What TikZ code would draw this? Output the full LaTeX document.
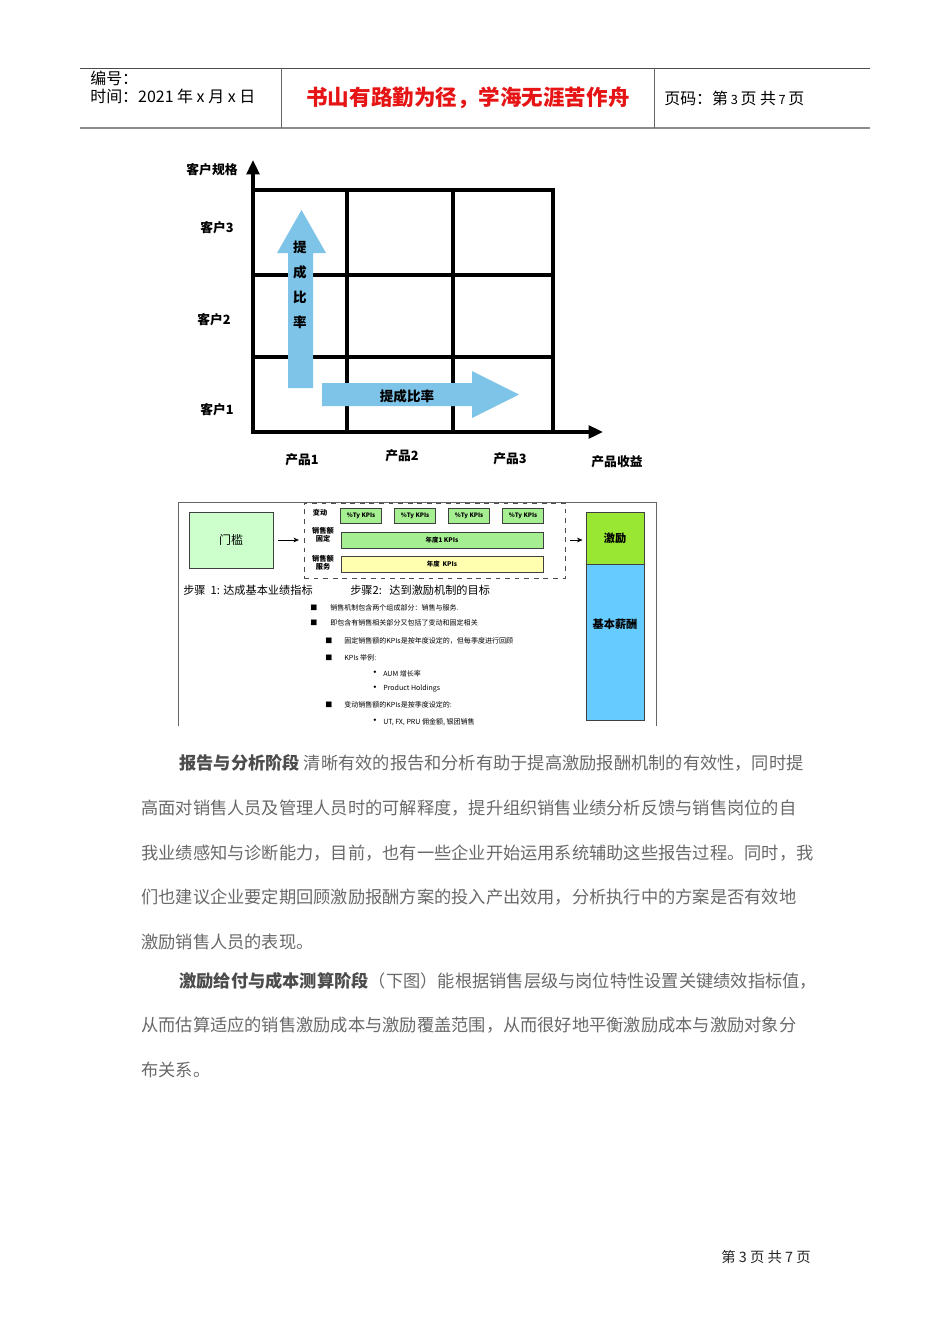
\documentclass[tikz,border=0pt]{standalone}
\usepackage{fontspec}
\setmainfont{Noto Sans CJK SC}
\usetikzlibrary{arrows.meta,positioning}
\definecolor{arrowblue}{RGB}{126,196,232}
\definecolor{headred}{RGB}{230,20,20}
\definecolor{paleg}{RGB}{204,255,204}
\definecolor{kpigreen}{RGB}{165,238,145}
\definecolor{paley}{RGB}{255,255,175}
\definecolor{incgreen}{RGB}{153,230,51}
\definecolor{basicblue}{RGB}{102,204,255}
\definecolor{bodygray}{RGB}{105,105,105}
\newcommand\bodyheadfont{\bfseries\color{black!70}}
\tikzset{
  gridline/.style={line width=2pt},
  axisline/.style={line width=2pt,-{Triangle[length=9pt,width=8pt]}},
  axislabel/.style={font=\bfseries\fontsize{8}{8}\selectfont},
  arrowtext/.style={font=\bfseries\fontsize{8.5}{8.5}\selectfont},
  kpibox/.style={draw=black!75,fill=kpigreen,minimum width=25.7pt,minimum height=9.4pt,inner sep=0pt,font=\bfseries\fontsize{3.8}{4}\selectfont},
  kpibar/.style={draw=black!75,minimum width=126.6pt,minimum height=10pt,inner sep=0pt,font=\bfseries\fontsize{4}{4}\selectfont},
  rowtag/.style={font=\bfseries\fontsize{4.5}{5.2}\selectfont,align=center,inner sep=0pt},
  tinytext/.style={anchor=west,inner sep=0pt,font=\fontsize{4.4}{5}\selectfont},
  dotmark/.style={anchor=west,inner sep=0pt,font=\fontsize{7}{7}\selectfont},
  flowarrow/.style={-{Stealth[length=3.5pt,width=3pt]},thin},
  bodytext/.style={anchor=west,inner sep=0pt,text=bodygray,font=\fontsize{10.8}{10.8}\selectfont}
}
\begin{document}
\begin{tikzpicture}[x=0.6266pt,y=-0.6266pt]
    \useasboundingbox [fill=white] (0,0) rectangle (950,1344);
    % header
    \draw [black!70,thin] (80,68) -- (870,68);
    \draw [black!45,line width=1.2pt] (80,128) -- (870,128);
    \draw [black!60,thin] (281,68) -- (281,128);
    \draw [black!60,thin] (654,68) -- (654,128);
    \node [anchor=west,inner sep=0pt,font=\fontsize{10}{10}\selectfont] (hnum) at (90,78) {编号：};
    \node [anchor=west,inner sep=0pt,font=\fontsize{10}{10}\selectfont] (htime) at (90,96) {时间：2021 年 x 月 x 日};
    \node [inner sep=0pt,text=headred,font=\bfseries\fontsize{13.5}{13.5}\selectfont] (hmotto) at (468,98) {书山有路勤为径，学海无涯苦作舟};
    \node [anchor=west,inner sep=0pt,font=\fontsize{10}{10}\selectfont] (hpage) at (664,98) {页码：第\,{\fontsize{8}{8}\selectfont 3}\,页 共\,{\fontsize{8}{8}\selectfont 7}\,页};
    % grid
    \coordinate (O) at (253,432);
    \coordinate (ytop) at (253,160);
    \coordinate (xend) at (603,432);
    \draw [gridline] (253,190) rectangle (553,432);
    \foreach \gx in {347,453} \draw [gridline] (\gx,190) -- (\gx,432);
    \foreach \gy in {275,357} \draw [gridline] (253,\gy) -- (553,\gy);
    \draw [axisline] (O) -- (ytop);
    \draw [axisline] (O) -- (xend);
    % block arrows
    \fill [arrowblue] (288,388) -- (288,253) -- (277,253) -- (301.5,210) -- (326,253) -- (313,253) -- (313,388) -- cycle;
    \fill [arrowblue] (322,383) -- (472,383) -- (472,371) -- (519,394.5) -- (472,418) -- (472,406) -- (322,406) -- cycle;
    \node [arrowtext] (up1) at (300,247) {提};
    \node [arrowtext] (up2) at (300,272) {成};
    \node [arrowtext] (up3) at (300,297) {比};
    \node [arrowtext] (up4) at (300,322) {率};
    \node [arrowtext] (rt) at (407,396) {提成比率};
    % axis labels
    \node [axislabel] (yname) at (212,170) {客户规格};
    \node [axislabel] (c3) at (217,228) {客户3};
    \node [axislabel] (c2) at (214,320) {客户2};
    \node [axislabel] (c1) at (217,410) {客户1};
    \node [axislabel] (p1) at (302,460) {产品1};
    \node [axislabel] (p2) at (402,456) {产品2};
    \node [axislabel] (p3) at (510,459) {产品3};
    \node [axislabel] (xname) at (617,462) {产品收益};
    % incentive scheme
    \draw [black!60,thin] (178,726) -- (178,502) -- (656,502) -- (656,726);
    \node [draw=black!75,fill=paleg,minimum width=52.6pt,minimum height=35.1pt,font=\fontsize{7.5}{7.5}\selectfont] (gate) at (231,540) {门槛};
    \node [draw=black!70,dashed,minimum width=163.5pt,minimum height=47pt,inner sep=0pt] (step2) at (434.5,540.5) {};
    \node [rowtag] (tvar) at (320,513) {变动};
    \node [rowtag] (tfix) at (323,535) {销售额\\固定};
    \node [rowtag] (tsrv) at (323,563) {销售额\\服务};
    \foreach \kx/\kn in {361/k1,415/k2,469/k3,523/k4}
        \node [kpibox] (\kn) at (\kx,516) {\%Ty KPIs};
    \node [kpibar,fill=kpigreen] (yr1) at (442,540) {年度1 KPIs};
    \node [kpibar,fill=paley] (yr2) at (442,564) {年度\ \ KPIs};
    \node [draw=black!75,fill=incgreen,minimum width=36.3pt,minimum height=32.6pt,inner sep=0pt,font=\bfseries\fontsize{7}{7}\selectfont] (incent) at (615,538) {激励};
    \node [draw=black!75,fill=basicblue,minimum width=36.3pt,minimum height=97.8pt,inner sep=0pt,below=0pt of incent,font=\bfseries\fontsize{7}{7}\selectfont] (basic) {};
    \node [font=\bfseries\fontsize{7}{7}\selectfont] (basictxt) at (615,624) {基本薪酬};
    \draw [flowarrow,shorten <=3pt,shorten >=3pt] (gate.east) -- (step2.west |- gate.east);
    \draw [flowarrow,shorten <=3pt,shorten >=2pt] (step2.east |- gate.east) -- (incent.west |- gate.east);
    \node [anchor=west,inner sep=0pt,font=\fontsize{7}{7}\selectfont] (s1) at (183,590) {步骤 \ 1: 达成基本业绩指标};
    \node [anchor=west,inner sep=0pt,font=\fontsize{7}{7}\selectfont] (s2) at (350,590) {步骤2:\ \ \ 达到激励机制的目标};
    % bullets
    \node [tinytext] (b1m) at (310,608) {■};
    \node [tinytext] (b1) at (330,608) {销售机制包含两个组成部分：销售与服务.};
    \node [tinytext] (b2m) at (310,623) {■};
    \node [tinytext] (b2) at (330,623) {即包含有销售相关部分又包括了变动和固定相关};
    \node [tinytext] (b3m) at (325,641) {■};
    \node [tinytext] (b3) at (344,641) {固定销售额的KPIs是按年度设定的，但每季度进行回顾};
    \node [tinytext] (b4m) at (325,658) {■};
    \node [tinytext] (b4) at (344,658) {KPIs 举例:};
    \node [dotmark] (b5m) at (369,674) {•};
    \node [tinytext] (b5) at (383,674) {AUM 增长率};
    \node [dotmark] (b6m) at (369,689) {•};
    \node [tinytext] (b6) at (383,689) {Product Holdings};
    \node [tinytext] (b7m) at (325,705) {■};
    \node [tinytext] (b7) at (344,705) {变动销售额的KPIs是按季度设定的:};
    \node [dotmark] (b8m) at (369,722) {•};
    \node [tinytext] (b8) at (383,722) {UT, FX, PRU 佣金额, 银团销售};
    % body text
    \node [bodytext] (l1) at (179,763) {{\bodyheadfont 报告与分析阶段} 清晰有效的报告和分析有助于提高激励报酬机制的有效性，同时提};
    \node [bodytext] (l2) at (141,808) {高面对销售人员及管理人员时的可解释度，提升组织销售业绩分析反馈与销售岗位的自};
    \node [bodytext] (l3) at (141,853) {我业绩感知与诊断能力，目前，也有一些企业开始运用系统辅助这些报告过程。同时，我};
    \node [bodytext] (l4) at (141,897) {们也建议企业要定期回顾激励报酬方案的投入产出效用，分析执行中的方案是否有效地};
    \node [bodytext] (l5) at (141,942) {激励销售人员的表现。};
    \node [bodytext] (m1) at (179,981) {{\bodyheadfont 激励给付与成本测算阶段}（下图）能根据销售层级与岗位特性设置关键绩效指标值，};
    \node [bodytext] (m2) at (141,1025) {从而估算适应的销售激励成本与激励覆盖范围，从而很好地平衡激励成本与激励对象分};
    \node [bodytext] (m3) at (141,1070) {布关系。};
    % footer
    \node [inner sep=0pt,text=black!85,font=\fontsize{9}{9}\selectfont] (foot) at (766,1257) {第 3 页 共 7 页};
\end{tikzpicture}
\end{document}
